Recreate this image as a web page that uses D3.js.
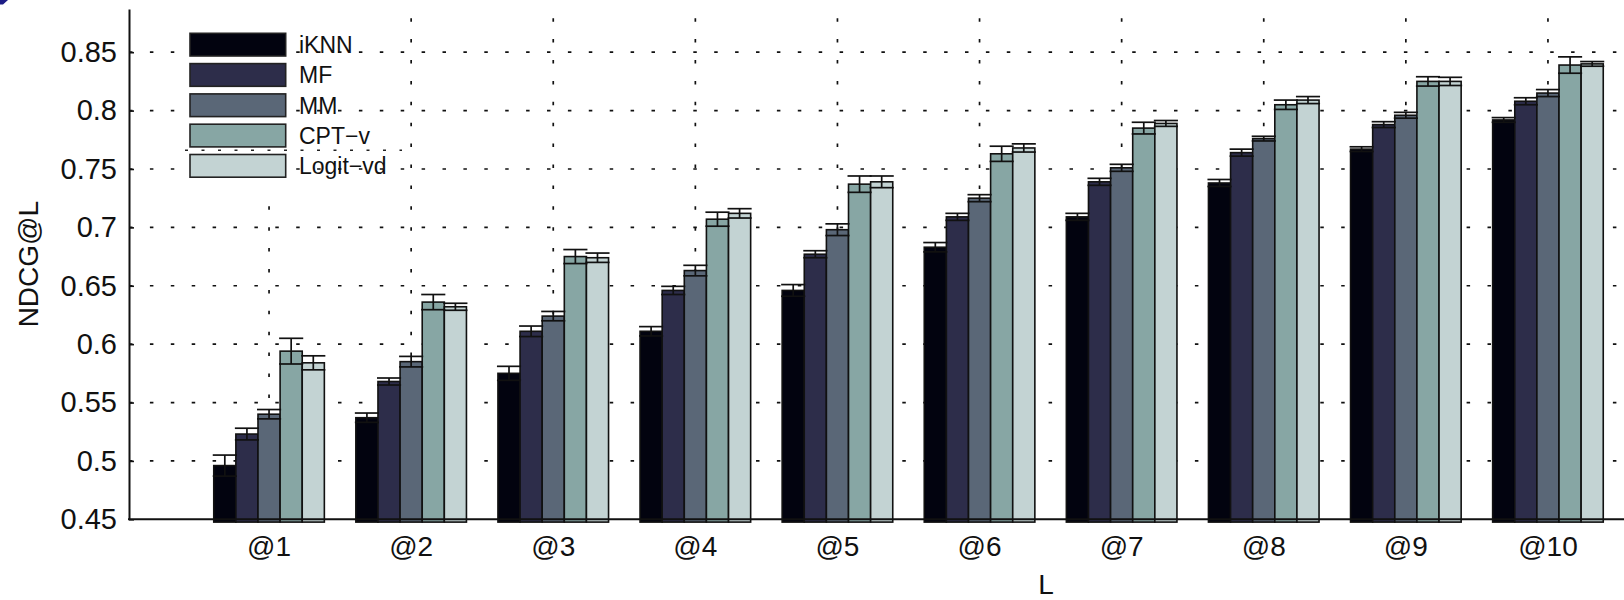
<!DOCTYPE html>
<html>
<head>
<meta charset="utf-8">
<script src="https://cdn.jsdelivr.net/npm/d3@7"></script>
<style>
  html, body { margin: 0; padding: 0; background: #fff; }
  svg { display: block; }
  text { font-family: "Liberation Sans", Arial, Helvetica, sans-serif; fill: #111; }
</style>
</head>
<body>
<svg id="chart" width="1624" height="600"></svg>
<script>
// Cut-off ranking positions on the x axis
const categories = ["@1", "@2", "@3", "@4", "@5", "@6", "@7", "@8", "@9", "@10"];
const seriesNames = ["iKNN", "MF", "MM", "CPT\u2212v", "Logit\u2212vd"];
const seriesColors = ["#02030f", "#2d2d4a", "#5a6777", "#87a6a4", "#c3d3d3"];

// Mean NDCG@L per method
const iKNN    = [0.496, 0.537, 0.575, 0.611, 0.646, 0.683, 0.709, 0.738, 0.767, 0.792];
const MF      = [0.523, 0.568, 0.611, 0.646, 0.677, 0.709, 0.739, 0.764, 0.788, 0.808];
const MM      = [0.540, 0.585, 0.624, 0.663, 0.698, 0.725, 0.751, 0.776, 0.796, 0.815];
const CPTv    = [0.594, 0.636, 0.675, 0.707, 0.737, 0.763, 0.785, 0.805, 0.825, 0.839];
const LogitVd = [0.584, 0.632, 0.674, 0.712, 0.739, 0.768, 0.789, 0.809, 0.825, 0.840];

// Half-widths of the error bars
const iKNNErr    = [0.009, 0.004, 0.006, 0.004, 0.005, 0.004, 0.003, 0.003, 0.002, 0.002];
const MFErr      = [0.005, 0.003, 0.0045, 0.0035, 0.003, 0.003, 0.003, 0.003, 0.0025, 0.003];
const MMErr      = [0.004, 0.0045, 0.004, 0.0045, 0.005, 0.003, 0.003, 0.002, 0.0025, 0.003];
const CPTvErr    = [0.011, 0.0065, 0.006, 0.006, 0.007, 0.0065, 0.005, 0.004, 0.004, 0.007];
const LogitVdErr = [0.006, 0.003, 0.004, 0.004, 0.005, 0.0035, 0.0025, 0.003, 0.0035, 0.002];

const yTicks = [0.45, 0.5, 0.55, 0.6, 0.65, 0.7, 0.75, 0.8, 0.85];
const yTickLabels = ["0.45", "0.5", "0.55", "0.6", "0.65", "0.7", "0.75", "0.8", "0.85"];

const values = [iKNN, MF, MM, CPTv, LogitVd];
const errors = [iKNNErr, MFErr, MMErr, CPTvErr, LogitVdErr];

const W = 1624, H = 600;
const plotLeft = 129;
const svg = d3.select("#chart");

const y = d3.scaleLinear().domain([0.45, 0.887]).range([519.3, 9]);
const x = d3.scaleBand().domain(categories).range([198, 1619]).padding(0);
const xInner = d3.scaleBand().domain(seriesNames).range([0, 110.6]).padding(0);
const groupCenter = c => x(c) + x.bandwidth() / 2;
const barX = (c, s) => groupCenter(c) - 55.3 + xInner(s);

const dotStyle = sel => sel.attr("stroke", "#111").attr("stroke-width", 1.7)
  .attr("stroke-dasharray", "3.5 17.4").attr("fill", "none");

// small corner mark
svg.append("path").attr("d", "M0,0 L8,0 L3,4.5 L0,4.5 Z").attr("fill", "#1d1d86");

// dotted grid
const grid = svg.append("g");
grid.selectAll("line.h").data(yTicks.slice(1)).join("line").attr("class", "h")
  .attr("x1", plotLeft).attr("x2", W).attr("y1", d => y(d)).attr("y2", d => y(d))
  .call(dotStyle);
grid.selectAll("line.v").data(categories).join("line").attr("class", "v")
  .attr("x1", d => groupCenter(d)).attr("x2", d => groupCenter(d))
  .attr("y1", y(0.45)).attr("y2", y.range()[1] + 6)
  .call(dotStyle).attr("stroke-dashoffset", 4);

// bars
const base = y(0.45) + 2.8;
const flat = [];
categories.forEach((c, i) => seriesNames.forEach((s, k) => {
  flat.push({ c, s, k, v: values[k][i], e: errors[k][i] });
}));

svg.append("g").selectAll("rect").data(flat).join("rect")
  .attr("x", d => barX(d.c, d.s))
  .attr("width", xInner.bandwidth())
  .attr("y", d => y(d.v))
  .attr("height", d => base - y(d.v))
  .attr("fill", d => seriesColors[d.k])
  .attr("stroke", "#111").attr("stroke-width", 1.6);

// error bars
const eb = svg.append("g").attr("stroke", "#111").attr("stroke-width", 1.7).attr("fill", "none");
flat.forEach(d => {
  const cx = barX(d.c, d.s) + xInner.bandwidth() / 2;
  const hw = xInner.bandwidth() / 2 + 1;
  const g = eb.append("g");
  g.append("line").attr("x1", cx).attr("x2", cx).attr("y1", y(d.v + d.e)).attr("y2", y(d.v - d.e));
  g.append("line").attr("x1", cx - hw).attr("x2", cx + hw).attr("y1", y(d.v + d.e)).attr("y2", y(d.v + d.e));
  g.append("line").attr("x1", cx - hw).attr("x2", cx + hw).attr("y1", y(d.v - d.e)).attr("y2", y(d.v - d.e));
});

// axes
const yAxis = d3.axisLeft(y).tickValues(yTicks)
  .tickFormat((d, i) => yTickLabels[i]).tickSizeInner(-5).tickSizeOuter(0).tickPadding(12);
const gy = svg.append("g").attr("transform", `translate(${plotLeft},0)`).call(yAxis);
gy.select(".domain").attr("stroke", "#111").attr("stroke-width", 2);
gy.selectAll(".tick line").attr("stroke", "#111").attr("stroke-width", 1.6);
gy.selectAll(".tick text").attr("font-size", 29).attr("font-family", "Liberation Sans, Arial, sans-serif").attr("fill", "#1a1a1a");

const xAxis = d3.axisBottom(x).tickSize(0).tickPadding(17);
const gx = svg.append("g").attr("transform", `translate(0,${y(0.45)})`).call(xAxis);
gx.select(".domain").remove();
gx.selectAll(".tick text").attr("font-size", 28).attr("font-family", "Liberation Sans, Arial, sans-serif").attr("fill", "#1a1a1a");

svg.append("line").attr("x1", plotLeft - 1).attr("x2", W)
  .attr("y1", y(0.45)).attr("y2", y(0.45)).attr("stroke", "#111").attr("stroke-width", 2);

// axis titles
svg.append("text").attr("transform", `translate(38,${(y.range()[0] + y.range()[1]) / 2})rotate(-90)`)
  .attr("text-anchor", "middle").attr("font-size", 28).text("NDCG@L");
svg.append("text").attr("x", 1046).attr("y", 594).attr("text-anchor", "middle")
  .attr("font-size", 28).text("L");

// legend
const legend = svg.append("g").attr("transform", "translate(190,33.3)");
legend.append("rect").attr("x", -7).attr("y", -16).attr("width", 103).attr("height", 180).attr("fill", "#fff");
legend.append("line").attr("x1", -5).attr("x2", 212).attr("y1", 117).attr("y2", 117)
  .attr("stroke", "#222").attr("stroke-width", 1.5).attr("stroke-dasharray", "3 13.5");
const item = legend.selectAll("g.item").data(seriesNames).join("g").attr("class", "item")
  .attr("transform", (d, i) => `translate(0,${i * 30.3})`);
item.append("rect").attr("width", 95.7).attr("height", 22.7)
  .attr("fill", (d, i) => seriesColors[i]).attr("stroke", "#222").attr("stroke-width", 1.6);
item.append("text").attr("x", 109).attr("y", 11.4).attr("dy", "0.36em")
  .attr("font-size", 23).text(d => d);
</script>
</body>
</html>
